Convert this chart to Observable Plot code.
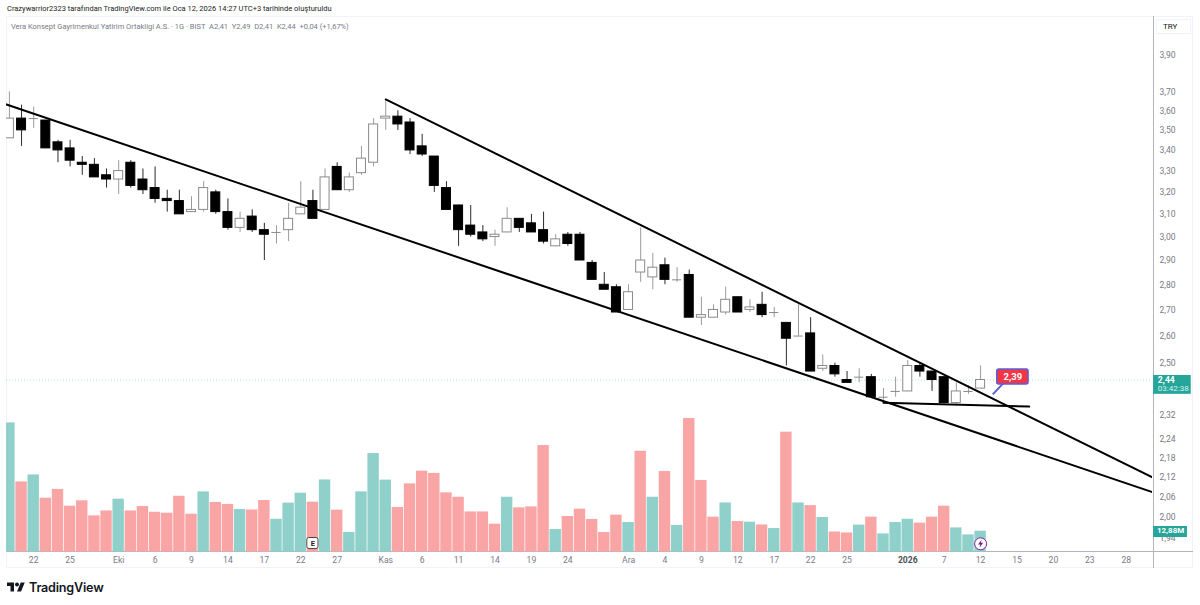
<!DOCTYPE html>
<html lang="tr">
<head>
<meta charset="utf-8">
<script src="https://cdn.jsdelivr.net/npm/d3@7"></script>
<script src="https://cdn.jsdelivr.net/npm/@observablehq/plot@0.6"></script>
<style>
  html, body { margin: 0; padding: 0; background: #fff; overflow: hidden; }
  #page { width: 1200px; height: 605px; font-family: Roboto, sans-serif; }
  #byline { height: 16px; line-height: 18px; padding-left: 7px; font-size: 7.5px; color: #222; white-space: nowrap; box-sizing: border-box; }
  #pane { position: relative; width: 1200px; height: 556px; }
  #pane svg.plot-layer { position: absolute; left: 0; top: 0; }
  #frame { position: absolute; left: 6px; top: 0; width: 1187px; height: 552px; border: 1px solid #f0f3fa; box-sizing: border-box; }
  #sep-v { position: absolute; left: 1153px; top: 0; width: 1px; height: 552px; background: #b2b5be; }
  #sep-h { position: absolute; left: 6px; top: 535px; width: 1187px; height: 1px; background: #b2b5be; }
  #legend { position: absolute; left: 11px; top: 5px; font-size: 7.5px; line-height: 11px; color: #787b86; white-space: pre; }
  #unit { position: absolute; left: 1156px; top: 3px; width: 35px; height: 15px; border: 1px solid #f0f3fa; box-sizing: border-box; font-size: 8px; line-height: 13px; padding-left: 6px; color: #131722; }
  #brand { height: 33px; box-sizing: border-box; padding: 0 0 3px 7px; display: flex; align-items: center; gap: 4px; font-family: Inter, Roboto, sans-serif; font-size: 12.6px; font-weight: 600; letter-spacing: -0.2px; color: #131722; }
  #brand svg { width: 18px; height: 10px; display: block; }
</style>
</head>
<body>
<div id="page">
  <div id="byline">Crazywarrior2323 tarafından TradingView.com ile Oca 12, 2026 14:27 UTC+3 tarihinde oluşturuldu</div>
  <div id="pane">
    <div id="frame"></div>
    <div id="sep-v"></div>
    <div id="sep-h"></div>
    <div id="legend">Vera Konsept Gayrimenkul Yatirim Ortakligi A.S. · 1G · BIST  A2,41  Y2,49  D2,41  K2,44  +0,04 (+1,67%)</div>
    <div id="unit">TRY</div>
  </div>
  <div id="brand">
    <svg viewBox="0 4 36 18" aria-hidden="true"><path fill="#131722" d="M14 22H7V11H0V4h14v18zM28 22h-8l7.5-18h8L28 22z"/><circle fill="#131722" cx="20" cy="8" r="4"/></svg>
    <span>TradingView</span>
  </div>
</div>
<script>
const opens = [3.46,3.56,3.56,3.55,3.44,3.41,3.34,3.33,3.28,3.26,3.34,3.26,3.22,3.17,3.16,3.11,3.12,3.20,3.11,3.04,3.09,3.03,3.02,3.03,3.10,3.16,3.12,3.32,3.21,3.29,3.34,3.56,
  3.57,3.54,3.42,3.37,3.22,3.14,3.05,3.02,3.00,3.02,3.08,3.06,3.03,2.96,3.01,3.01,2.89,2.80,2.79,2.70,2.85,2.83,2.88,2.82,2.84,2.67,2.67,2.69,2.75,2.70,2.72,2.69,
  2.65,2.60,2.61,2.48,2.49,2.44,2.45,2.45,2.38,2.40,2.40,2.49,2.47,2.45,2.36,2.40,2.41];
const highs = [3.70,3.63,3.62,3.55,3.45,3.45,3.37,3.36,3.31,3.35,3.35,3.31,3.32,3.21,3.21,3.18,3.25,3.21,3.17,3.11,3.12,3.06,3.05,3.15,3.25,3.21,3.31,3.34,3.29,3.42,3.56,3.66,
  3.60,3.56,3.48,3.37,3.25,3.14,3.14,3.05,3.03,3.13,3.08,3.10,3.11,3.01,3.02,3.02,2.90,2.85,2.80,2.80,3.04,2.93,2.91,2.87,2.86,2.75,2.72,2.79,2.75,2.74,2.77,2.71,
  2.65,2.72,2.67,2.53,2.50,2.47,2.48,2.46,2.41,2.45,2.51,2.50,2.47,2.45,2.43,2.42,2.49];
const lows = [3.46,3.42,3.51,3.41,3.34,3.32,3.28,3.27,3.22,3.19,3.22,3.19,3.15,3.11,3.10,3.11,3.11,3.10,3.03,3.02,3.02,2.90,2.97,2.98,3.10,3.08,3.12,3.21,3.20,3.28,3.32,3.50,
  3.50,3.38,3.37,3.20,3.12,2.96,3.00,2.98,2.96,3.02,3.02,3.02,2.97,2.96,2.96,2.90,2.82,2.78,2.69,2.70,2.81,2.78,2.80,2.81,2.67,2.64,2.67,2.68,2.69,2.69,2.67,2.67,
  2.49,2.60,2.47,2.47,2.45,2.43,2.43,2.38,2.37,2.38,2.40,2.45,2.40,2.36,2.35,2.39,2.41];
const closes = [3.56,3.50,3.56,3.41,3.40,3.35,3.33,3.27,3.26,3.30,3.23,3.21,3.17,3.16,3.10,3.12,3.22,3.11,3.04,3.08,3.03,3.01,3.02,3.08,3.13,3.08,3.27,3.21,3.27,3.36,3.53,3.57,
  3.53,3.40,3.38,3.23,3.12,3.03,3.01,2.99,3.01,3.08,3.04,3.02,2.98,2.99,2.97,2.90,2.82,2.78,2.69,2.77,2.90,2.87,2.82,2.82,2.67,2.68,2.70,2.74,2.69,2.71,2.68,2.69,
  2.59,2.60,2.47,2.49,2.46,2.43,2.45,2.38,2.38,2.40,2.49,2.47,2.44,2.36,2.40,2.40,2.44];

// Daily volume, millions of shares
const volumes = [79.3,43.1,47.4,33.1,38.5,28.2,31.5,22.3,25.3,32.5,25.3,28.0,24.5,23.9,34.3,23.3,37.0,30.5,29.3,26.2,25.9,31.7,20.2,30.1,36.2,30.7,44.3,25.8,12.1,37.0,60.5,44.2,
  27.4,41.9,49.7,48.3,36.4,33.7,24.7,24.7,17.2,33.7,27.2,27.8,65.4,13.9,21.9,26.4,20.1,12.1,22.7,18.2,61.9,33.7,49.5,16.4,82.0,44.0,21.5,30.2,18.8,18.4,16.7,14.5,
  73.6,30.2,28.6,21.3,12.4,11.8,16.6,21.5,11.2,18.2,20.2,17.8,21.5,28.2,14.9,10.6,12.88];
const volumeUpBars = [0,2,9,16,19,22,23,24,26,28,29,30,31,41,45,51,53,55,59,61,63,65,67,70,72,73,74,78,79,80];

const timeTickBars = [2,5,9,12,15,18,21,24,27,31,34,37,40,43,46,51,54,57,60,63,66,69,74,77,80,83,86,89,92];
const timeTickLabels = ["22","25","Eki","6","9","14","17","22","27","Kas","6","11","14","19","24","Ara","4","9","12","17","22","25","2026","7","12","15","20","23","28"];
const priceTicks = [3.9,3.7,3.6,3.5,3.4,3.3,3.2,3.1,3.0,2.9,2.8,2.7,2.6,2.5,2.32,2.24,2.18,2.12,2.06,2.0,1.94];

// Trend lines as [bar, price] pairs
const lowerTrend = [[-0.24,3.633],[94.16,2.075]];
const upperTrend = [[31,3.66],[94.16,2.12]];
const baseTrend = [[72,2.361],[84,2.348]];

const lastPrice = 2.44;
const lastBar = 80;
const lastVolume = 12.88;
const notePrice = 2.39;

const W = 1200, H = 556;
const margins = {marginLeft: 6, marginRight: 48, marginTop: 0, marginBottom: 20.3};
const xScale = {type: "linear", domain: [-0.24, 94.16], axis: null};
const fontStyle = {background: "transparent", fontFamily: "Roboto, sans-serif", fontSize: "8.6px", overflow: "visible"};
const comma = v => d3.format(".2f")(v).replace(".", ",");

const candles = opens.map((o, i) => ({i, open: o, high: highs[i], low: lows[i], close: closes[i]}));
const isUp = d => d.close >= d.open;
const bodies = candles.filter(d => d.open !== d.close);
const dojis = candles.filter(d => d.open === d.close);
const ticks = timeTickBars.map((bar, k) => ({bar, label: timeTickLabels[k]}));
const volumeBars = volumes.map((v, i) => ({i, v, up: volumeUpBars.includes(i)}));
const teal = "#26a69a";
const boltSymbol = {draw(c) { c.moveTo(1, -4); c.lineTo(-2.6, 0.8); c.lineTo(-0.3, 0.8); c.lineTo(-1, 4); c.lineTo(2.6, -1); c.lineTo(0.3, -1); c.closePath(); }};

const priceChart = Plot.plot({
  width: W, height: H, ...margins,
  x: xScale,
  y: {type: "log", domain: [1.9025, 4.126], axis: null},
  style: fontStyle,
  marks: [
    Plot.axisY({anchor: "right", ticks: priceTicks, tickFormat: comma, tickSize: 0, tickPadding: 7, label: null, color: "#787b86"}),
    Plot.text(ticks.filter(d => d.label !== "2026"), {x: "bar", text: "label", frameAnchor: "bottom", lineAnchor: "middle", dy: 8.3, fill: "#787b86"}),
    Plot.text(ticks.filter(d => d.label === "2026"), {x: "bar", text: "label", frameAnchor: "bottom", lineAnchor: "middle", dy: 8.3, fill: "#4a4e59", fontWeight: 700}),
    Plot.ruleY([lastPrice], {stroke: teal, strokeOpacity: 0.45, strokeWidth: 0.8, strokeDasharray: "1 2"}),
    Plot.ruleX(candles, {x: "i", y1: "low", y2: "high", stroke: d => isUp(d) ? "#9b9b9b" : "#2a2a2a", strokeWidth: 1, clip: true}),
    Plot.rect(bodies, {x1: d => d.i - 0.37, x2: d => d.i + 0.37, y1: "open", y2: "close", fill: d => isUp(d) ? "#fff" : "#000", stroke: d => isUp(d) ? "#8a8a8a" : "#000", strokeWidth: 1, clip: true}),
    Plot.ruleY(dojis, {x1: d => d.i - 0.38, x2: d => d.i + 0.38, y: "open", stroke: "#8a8a8a", strokeWidth: 1, clip: true}),
    Plot.line(lowerTrend, {x: d => d[0], y: d => d[1], stroke: "#000", strokeWidth: 2, clip: true}),
    Plot.line(upperTrend, {x: d => d[0], y: d => d[1], stroke: "#000", strokeWidth: 2, clip: true}),
    Plot.line(baseTrend, {x: d => d[0], y: d => d[1], stroke: "#000", strokeWidth: 2, clip: true}),
    Plot.link([notePrice], {x1: lastBar + 1, y1: d => d, x2: lastBar + 1.9, y2: 2.43, stroke: "#5b5fd6", strokeWidth: 2}),
    Plot.rect([notePrice], {x1: lastBar + 1.37, x2: lastBar + 3.95, y1: 2.424, y2: 2.477, fill: "#f23645", stroke: "#5b5fd6", strokeWidth: 1.5, rx: 2}),
    Plot.text([notePrice], {x: lastBar + 2.66, y: 2.45, text: comma, fill: "#fff", fontWeight: 700, fontSize: 9.5}),
    Plot.rect([lastPrice], {x1: 94.25, x2: 97.35, y1: 2.39, y2: 2.456, fill: teal}),
    Plot.text([lastPrice], {x: 94.6, y: d => d, text: comma, fill: "#fff", fontWeight: 700, fontSize: 8.6, textAnchor: "start"}),
    Plot.text(["03:42:38"], {x: 94.6, y: 2.41, text: d => d, fill: "#d9f2ef", fontSize: 8, textAnchor: "start"})
  ]
});

const volumeChart = Plot.plot({
  width: W, height: H, ...margins,
  x: xScale,
  y: {type: "linear", domain: [0, 328.5], axis: null},
  style: fontStyle,
  marks: [
    Plot.rect(volumeBars, {x1: d => d.i - 0.47, x2: d => d.i + 0.47, y1: 0, y2: "v", fill: d => d.up ? "#8fd1ca" : "#f9a5a5", clip: true}),
    Plot.rect([25], {x1: d => d - 0.46, x2: d => d + 0.46, y1: 1.9, y2: 8.7, fill: "#fff", stroke: "#444", strokeWidth: 1, rx: 2}),
    Plot.text(["E"], {x: 25, y: 5.3, text: d => d, fill: "#222", fontSize: 7.5, fontWeight: 700}),
    Plot.dot([lastBar], {x: d => d, y: 5.15, r: 6, fill: "#fff", stroke: "#7b1fa2", strokeWidth: 1}),
    Plot.dot([lastBar], {x: d => d, y: 5.15, symbol: boltSymbol, r: 4, fill: "#7b1fa2", stroke: "none"}),
    Plot.rect([lastVolume], {x1: 94.25, x2: 97.04, y1: 9, y2: 15.76, fill: teal}),
    Plot.text([lastVolume], {x: 95.65, y: 13.4, text: d => comma(d) + "M", fill: "#fff", fontWeight: 700, fontSize: 8})
  ]
});

const pane = document.getElementById("pane");
for (const chart of [priceChart, volumeChart]) {
  chart.classList.add("plot-layer");
  pane.appendChild(chart);
}
</script>
</body>
</html>
